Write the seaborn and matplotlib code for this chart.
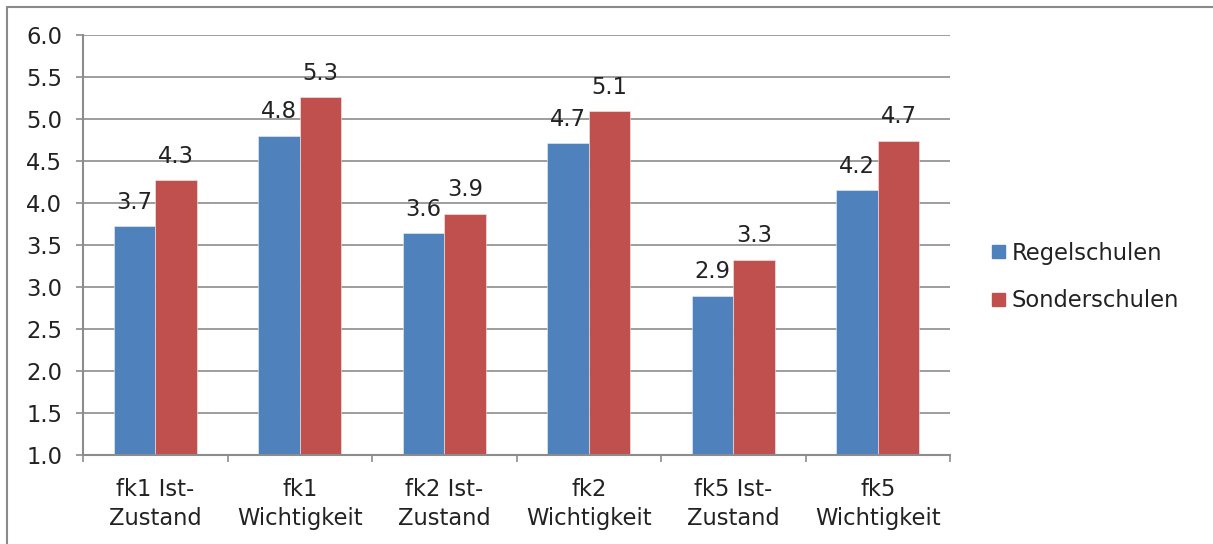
import matplotlib
matplotlib.use("Agg")
import matplotlib.pyplot as plt
from matplotlib.lines import Line2D
import pandas as pd
import seaborn as sns

# Survey means per item, for both school types
categories = ["fk1 Ist-\nZustand", "fk1\nWichtigkeit", "fk2 Ist-\nZustand",
              "fk2\nWichtigkeit", "fk5 Ist-\nZustand", "fk5\nWichtigkeit"]
regelschulen = [3.72, 4.80, 3.64, 4.71, 2.89, 4.15]
sonderschulen = [4.27, 5.26, 3.87, 5.09, 3.32, 4.74]
series_names = ["Regelschulen", "Sonderschulen"]
series_colors = ["#4F81BD", "#C0504D"]
y_ticks = [1.0, 1.5, 2.0, 2.5, 3.0, 3.5, 4.0, 4.5, 5.0, 5.5, 6.0]

df = pd.DataFrame({
    "Kategorie": categories * 2,
    "Wert": regelschulen + sonderschulen,
    "Schulform": [series_names[0]] * len(categories) + [series_names[1]] * len(categories),
})

sns.set_theme(style="white")
plt.rcParams["font.family"] = ["DejaVu Sans"]

W, H = 1213, 544
FS = 16.3
fig = plt.figure(figsize=(W / 100, H / 100), dpi=100)
ax = fig.add_axes([83 / W, 1 - 454.5 / H, (950 - 83) / W, (454.5 - 35) / H])

grid_col = "#8c8c8c"
text_col = "#222222"

sns.barplot(data=df, x="Kategorie", y="Wert", hue="Schulform",
            palette=series_colors, saturation=1, width=0.574, gap=0,
            edgecolor="#f0f0f0", linewidth=0.4, ax=ax, legend=False,
            order=categories, hue_order=series_names)

for cont in ax.containers:
    ax.bar_label(cont, fmt="%.1f", padding=9, fontsize=FS, color=text_col)

ax.set_ylim(1.0, 6.0)
ax.set_yticks(y_ticks)
ax.set_yticklabels([f"{v:.1f}" for v in y_ticks])
ax.set_xlim(-0.5, len(categories) - 0.5)
ax.set_xticks([i - 0.5 for i in range(len(categories) + 1)], minor=False)
ax.set_xticklabels([])
ax.set_xticks(range(len(categories)), minor=True)
ax.set_xticklabels(categories, minor=True, linespacing=1.3)
ax.set_xlabel("")
ax.set_ylabel("")

ax.yaxis.grid(True, color=grid_col, linewidth=1.2)
ax.set_axisbelow(True)
for side in ["top", "right"]:
    ax.spines[side].set_visible(False)
for side in ["left", "bottom"]:
    ax.spines[side].set_color(grid_col)
    ax.spines[side].set_linewidth(1.5)

ax.tick_params(axis="y", which="major", direction="out", length=5, width=1.2,
               color=grid_col, left=True, pad=10, labelsize=FS, labelcolor=text_col)
ax.tick_params(axis="x", which="major", direction="out", length=5, width=1.2,
               color=grid_col, bottom=True)
ax.tick_params(axis="x", which="minor", length=0, pad=17, labelsize=FS,
               labelcolor=text_col)

# Legend on the right
handles = [plt.Rectangle((0, 0), 1, 1, color=c) for c in series_colors]
fig.legend(handles, series_names, loc="center left",
           bbox_to_anchor=(972 / W, 1 - 277 / H), frameon=False,
           fontsize=FS, handlelength=0.55, handleheight=0.55, handletextpad=0.3,
           labelspacing=1.1, labelcolor=text_col)

# Outer chart border (top and left edges)
fig.add_artist(Line2D([7 / W, 1.0], [1 - 6.5 / H, 1 - 6.5 / H], transform=fig.transFigure,
                      color="#8a8a8a", linewidth=1.5))
fig.add_artist(Line2D([7 / W, 7 / W], [0.0, 1 - 6.5 / H], transform=fig.transFigure,
                      color="#8a8a8a", linewidth=1.5))

fig.savefig("out.png", dpi=100, facecolor="white")
